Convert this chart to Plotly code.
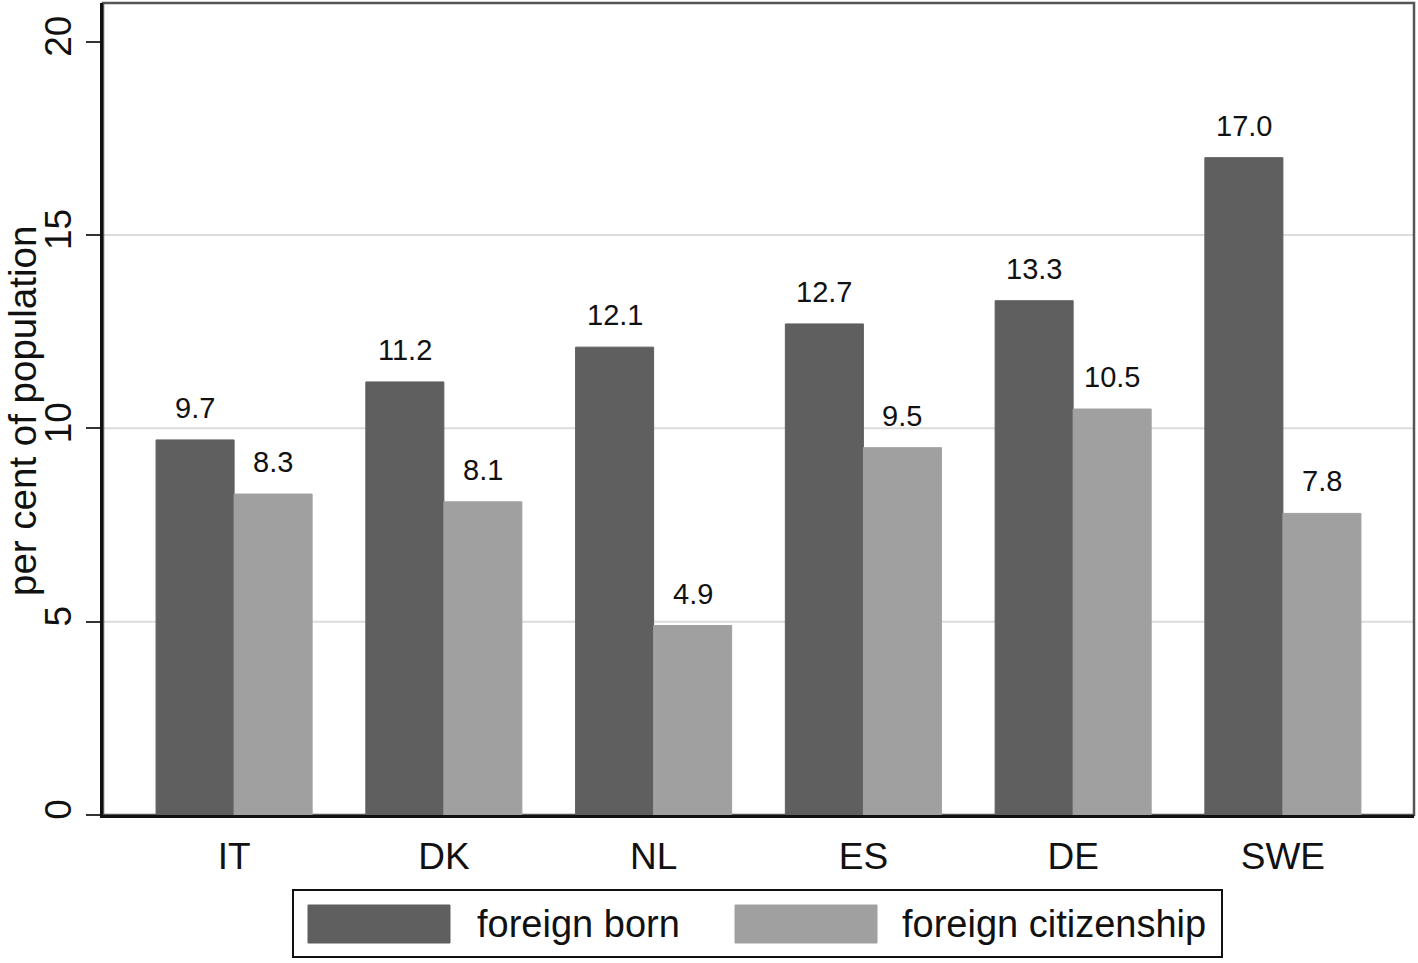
import plotly.graph_objects as go

countries = ["IT", "DK", "NL", "ES", "DE", "SWE"]
foreign_born = [9.7, 11.2, 12.1, 12.7, 13.3, 17.0]
foreign_citizenship = [8.3, 8.1, 4.9, 9.5, 10.5, 7.8]
series_names = ["foreign born", "foreign citizenship"]
series_colors = ["#5f5f5f", "#a0a0a0"]
y_ticks = [0, 5, 10, 15, 20]
grid_vals = [5, 10, 15]

FONT = "Liberation Sans, Arial, sans-serif"
W, H = 1418, 963
L, R, T, B = 103, 4, 3, 148
pw, ph = W - L - R, H - T - B

bargap = 0.256
bar_w = (1 - bargap) / 2

fig = go.Figure()
for name, vals, col in zip(series_names, [foreign_born, foreign_citizenship], series_colors):
    fig.add_trace(go.Bar(x=countries, y=vals, name=name, marker=dict(color=col, line=dict(color=col, width=1)),
                         showlegend=False))

# value labels
annotations = []
for k, vals in enumerate([foreign_born, foreign_citizenship]):
    off = (k - 0.5) * bar_w
    for i, v in enumerate(vals):
        annotations.append(dict(x=i + off, y=v, xref="x", yref="y", text=f"{v:.1f}", showarrow=False,
                                yanchor="bottom", yshift=14, font=dict(size=29, color="#111111", family=FONT)))

def px_x(p):
    return (p - L) / pw

def px_y(p):
    return (H - B - p) / ph

shapes = []
# gridlines
for g in grid_vals:
    shapes.append(dict(type="line", xref="paper", yref="y", x0=0, x1=1, y0=g, y1=g,
                       line=dict(color="#dcdcdc", width=2), layer="below"))
# frame (top/right grey)
shapes.append(dict(type="rect", xref="paper", yref="paper", x0=0, x1=1, y0=0, y1=1,
                   line=dict(color="#555555", width=2.5), layer="below"))
# legend box
shapes.append(dict(type="rect", xref="paper", yref="paper", x0=px_x(293), x1=px_x(1222), y0=px_y(957), y1=px_y(890),
                   line=dict(color="#111111", width=2), fillcolor="white"))
sw = [(308, 450), (735, 877)]
tx = [475, 900]
for (a, b), t, name, col in zip(sw, tx, series_names, series_colors):
    shapes.append(dict(type="rect", xref="paper", yref="paper", x0=px_x(a), x1=px_x(b), y0=px_y(943), y1=px_y(905),
                       line=dict(color=col, width=1), fillcolor=col))
    annotations.append(dict(x=px_x(t), y=px_y(924), xref="paper", yref="paper", text=name, showarrow=False,
                            xanchor="left", yanchor="middle", font=dict(size=38, color="#111111", family=FONT)))

# y title
annotations.append(dict(x=px_x(22), y=px_y(411), xref="paper", yref="paper", text="per cent of population",
                        showarrow=False, textangle=-90, xanchor="center", yanchor="middle",
                        font=dict(size=38.5, color="#111111", family=FONT)))

fig.update_layout(
    width=W, height=H,
    margin=dict(l=L, r=R, t=T, b=B),
    paper_bgcolor="white", plot_bgcolor="white",
    barmode="group", bargap=bargap, bargroupgap=0,
    font=dict(family=FONT, color="#111111"),
    shapes=shapes, annotations=annotations,
    xaxis=dict(range=[-0.625, 5.625], showline=True, linecolor="#111111", linewidth=3,
               ticks="", tickfont=dict(size=37, color="#111111"), ticklabelstandoff=7,
               showgrid=False, zeroline=False, fixedrange=True),
    yaxis=dict(range=[0, 21], tickvals=y_ticks, showline=True, linecolor="#111111", linewidth=3,
               ticks="outside", ticklen=14, tickwidth=2, tickcolor="#333333", tickangle=-90,
               tickfont=dict(size=37, color="#111111"), showgrid=False, zeroline=False, fixedrange=True),
)

fig.write_html("out.html", config={"displayModeBar": False},
               post_script="document.body.style.margin='0';document.body.style.overflow='hidden';")
